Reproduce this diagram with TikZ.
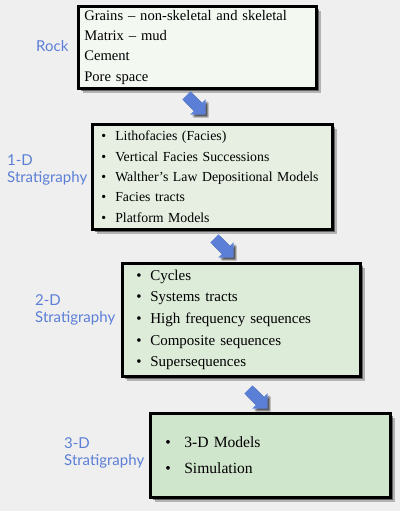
\documentclass[tikz,border=0pt]{standalone}
\usepackage{fontspec}
\setmainfont{Liberation Serif}
\newfontfamily\labelfont{Lato}
\usetikzlibrary{shapes.arrows,shadows}
\definecolor{bg}{HTML}{EFEFEF}
\definecolor{lblue}{HTML}{5B7FD6}
\definecolor{fillA}{HTML}{F3F8F1}
\definecolor{fillB}{HTML}{E6EFE2}
\definecolor{fillC}{HTML}{DDEBD9}
\definecolor{fillD}{HTML}{D0E6CC}
\tikzset{
  softshadow/.style={
    general shadow={shadow xshift=4.5pt, shadow yshift=-4.5pt, opacity=0.25, fill=black},
    general shadow={shadow xshift=3pt, shadow yshift=-3pt, opacity=0.45, fill=black}},
  boxnode/.style={rectangle, draw=black, line width=2.6pt, anchor=north west,
    inner ysep=0pt, align=left, softshadow},
  flowarrow/.style={single arrow, fill=lblue, draw=none, rotate=-45, inner sep=0pt,
    minimum height=27pt, minimum width=21pt, single arrow head extend=5pt,
    general shadow={shadow xshift=3pt, shadow yshift=-3pt, opacity=0.3, fill=black},
    general shadow={shadow xshift=1.8pt, shadow yshift=-1.8pt, opacity=0.45, fill=black}},
  stagelabel/.style={text=lblue, font=\labelfont\fontsize{15}{16.5}\selectfont, align=left, inner sep=0pt}
}
\newcommand{\bul}[1]{\makebox[#1][l]{\textbullet}}
\begin{document}
\begin{tikzpicture}[x=1pt,y=-1pt]
\fill[bg] (0,0) rectangle (400,511);
\useasboundingbox (0,0) rectangle (400,511);

\node[boxnode, fill=fillA, minimum width=238pt, minimum height=82pt, inner xsep=6pt, text width=226pt,
  font=\fontsize{14.6}{20.3}\selectfont] (rock) at (77,5)
  {Grains – non-skeletal and skeletal\\Matrix – mud\\Cement\\Pore space};

\node[boxnode, fill=fillB, minimum width=240pt, minimum height=105pt, inner xsep=9pt, text width=222pt,
  font=\fontsize{13.8}{20.3}\selectfont] (oned) at (91,123)
  {\bul{14pt}Lithofacies (Facies)\\\bul{14pt}Vertical Facies Successions\\\bul{14pt}Walther’s Law Depositional Models\\\bul{14pt}Facies tracts\\\bul{14pt}Platform Models};

\node[boxnode, fill=fillC, minimum width=238pt, minimum height=113pt, inner xsep=14pt, text width=210pt,
  font=\fontsize{15}{21.7}\selectfont] (twod) at (121,262)
  {\bul{14pt}Cycles\\\bul{14pt}Systems tracts\\\bul{14pt}High frequency sequences\\\bul{14pt}Composite sequences\\\bul{14pt}Supersequences};

\node[boxnode, fill=fillD, minimum width=240pt, minimum height=84pt, inner xsep=15pt, text width=210pt,
  font=\fontsize{15.6}{26}\selectfont] (threed) at (149,412)
  {\bul{19pt}3-D Models\\\bul{19pt}Simulation};

\node[stagelabel, anchor=west] (lrock) at (36,46) {Rock};
\node[stagelabel, anchor=west] (lone) at (7,170) {1-D\\Stratigraphy};
\node[stagelabel, anchor=west] (ltwo) at (35,310) {2-D\\Stratigraphy};
\node[stagelabel, anchor=west] (lthree) at (64,453) {3-D\\Stratigraphy};

\node[flowarrow] (a1) at (194,103) {\rule{0pt}{11pt}};
\node[flowarrow] (a2) at (222,246) {\rule{0pt}{11pt}};
\node[flowarrow] (a3) at (256,397) {\rule{0pt}{11pt}};
\end{tikzpicture}
\end{document}
